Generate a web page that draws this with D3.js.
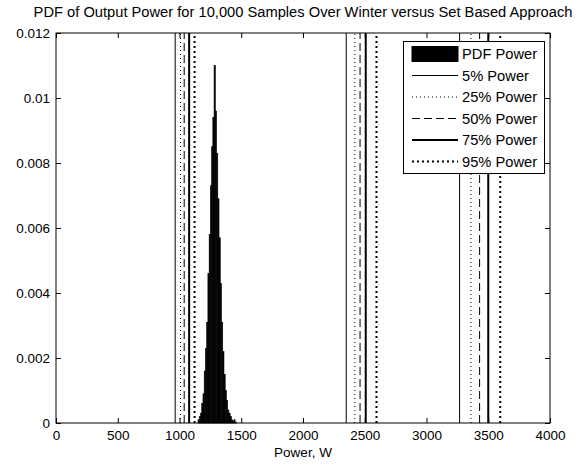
<!doctype html>
<html>
<head>
<meta charset="UTF-8">
<title>PDF of Output Power</title>
<script src="https://d3js.org/d3.v7.min.js"></script>
<style>
  body{margin:0;background:#fff;}
  text{font-family:Arial,"Liberation Sans",sans-serif;fill:#000;}
</style>
</head>
<body>
<svg width="582" height="464" id="chart"></svg>
<script>
// histogram of 10,000 samples (bin centre in W, density)
var binCenters = [1155,1165,1175,1185,1195,1205,1215,1225,1235,1245,1255,1265,1275,1285,
                  1295,1305,1315,1325,1335,1345,1355,1365,1375,1385,1395,1405,1415,1425,1435,1445,1455];
var pdfValues  = [0.0001,0.0002,0.0003,0.0006,0.0009,0.0016,0.0023,0.0031,0.0046,0.0058,0.0073,0.0085,0.0094,0.0110,
                  0.0096,0.0083,0.0069,0.0057,0.0043,0.0031,0.0022,0.0015,0.0010,0.0007,0.0004,0.0003,0.0002,0.0001,0.00005,0.0001,0.00003];
var binWidth = 10;

// percentile powers: winter samples, set based approach A, set based approach B
var pctLabels = ["5% Power","25% Power","50% Power","75% Power","95% Power"];
var pctWinter = [965, 1008, 1038, 1078, 1122];
var pctSetA   = [2350, 2420, 2462, 2508, 2595];
var pctSetB   = [3268, 3360, 3430, 3500, 3597];

var xTicks = [0,500,1000,1500,2000,2500,3000,3500,4000];
var yTicks = [0,0.002,0.004,0.006,0.008,0.01,0.012];
var yTickLabels = ["0","0.002","0.004","0.006","0.008","0.01","0.012"];

var styles = [
  {w:1, dash:null},
  {w:1, dash:"1,3"},
  {w:1, dash:"8,4"},
  {w:2, dash:null},
  {w:2, dash:"2,3"}
];

var L = 56, R = 550, T = 33, B = 423;
var svg = d3.select("#chart");
var x = d3.scaleLinear().domain([0,4000]).range([L,R]);
var y = d3.scaleLinear().domain([0,0.012]).range([B,T]);

svg.append("rect").attr("width",582).attr("height",464).attr("fill","#fff");

// histogram bars
svg.append("g").selectAll("rect")
  .data(binCenters)
  .enter().append("rect")
  .attr("x", function(d){ return x(d - binWidth/2); })
  .attr("width", function(d){ return x(d + binWidth/2) - x(d - binWidth/2); })
  .attr("y", function(d,i){ return y(pdfValues[i]); })
  .attr("height", function(d,i){ return B - y(pdfValues[i]); })
  .attr("fill","#000").attr("stroke","#000").attr("stroke-width",0.6);

// percentile lines
var groups = [pctWinter, pctSetA, pctSetB];
groups.forEach(function(arr){
  svg.append("g").selectAll("line")
    .data(arr)
    .enter().append("line")
    .attr("x1", function(d){ return x(d); })
    .attr("x2", function(d){ return x(d); })
    .attr("y1", y(0)).attr("y2", y(0.012))
    .attr("stroke","#000")
    .attr("stroke-width", function(d,i){ return styles[i].w; })
    .attr("stroke-dasharray", function(d,i){ return styles[i].dash; });
});

// axes
var fmtY = function(d){ return yTickLabels[yTicks.indexOf(d)]; };
svg.append("g").attr("transform","translate(0,"+B+")")
  .call(d3.axisBottom(x).tickValues(xTicks).tickFormat(d3.format("d")).tickSizeInner(-5).tickSizeOuter(0).tickPadding(7))
  .call(function(g){ g.selectAll("text").attr("font-size",13.5).attr("font-family",null); });
svg.append("g").attr("transform","translate(0,"+T+")")
  .call(d3.axisTop(x).tickValues(xTicks).tickSizeInner(-5).tickSizeOuter(0).tickFormat(""));
svg.append("g").attr("transform","translate("+L+",0)")
  .call(d3.axisLeft(y).tickValues(yTicks).tickFormat(fmtY).tickSizeInner(-5).tickSizeOuter(0).tickPadding(6))
  .call(function(g){ g.selectAll("text").attr("font-size",13.5).attr("font-family",null); });
svg.append("g").attr("transform","translate("+R+",0)")
  .call(d3.axisRight(y).tickValues(yTicks).tickSizeInner(-5).tickSizeOuter(0).tickFormat(""));
svg.selectAll(".domain").remove();
svg.selectAll(".tick line").attr("stroke","#000");

svg.append("rect").attr("x",L).attr("y",T).attr("width",R-L).attr("height",B-T)
  .attr("fill","none").attr("stroke","#000").attr("stroke-width",1);

// title and label
svg.append("text").attr("x",(L+R)/2).attr("y",17).attr("text-anchor","middle")
  .attr("font-size",14.7).text("PDF of Output Power for 10,000 Samples Over Winter versus Set Based Approach");
svg.append("text").attr("x",(L+R)/2).attr("y",457).attr("text-anchor","middle")
  .attr("font-size",13.5).text("Power, W");

// legend
var lg = svg.append("g");
lg.append("rect").attr("x",403.5).attr("y",41.5).attr("width",141).attr("height",132)
  .attr("fill","#fff").attr("stroke","#000");
var rowY = [54, 75.5, 97, 118.5, 140, 161.5];
lg.append("rect").attr("x",412).attr("y",rowY[0]-7.5).attr("width",46).attr("height",15)
  .attr("fill","#000").attr("stroke","#000");
lg.append("text").attr("x",462).attr("y",rowY[0]).attr("dy","0.35em").attr("font-size",14.7).text("PDF Power");
pctLabels.forEach(function(lab,i){
  lg.append("line").attr("x1",412).attr("x2",458).attr("y1",rowY[i+1]).attr("y2",rowY[i+1])
    .attr("stroke","#000").attr("stroke-width",styles[i].w).attr("stroke-dasharray",styles[i].dash);
  lg.append("text").attr("x",462).attr("y",rowY[i+1]).attr("dy","0.35em").attr("font-size",14.7).text(lab);
});
</script>
</body>
</html>
